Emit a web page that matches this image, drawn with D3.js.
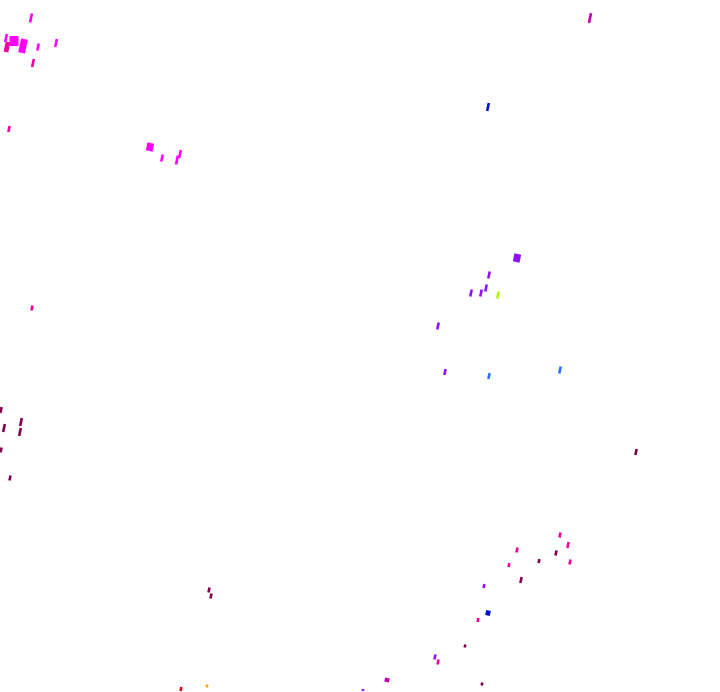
<!DOCTYPE html>
<html><head><meta charset="utf-8">
<script src="https://cdn.jsdelivr.net/npm/d3@7"></script>
<style>html,body{margin:0;padding:0;background:#fff;}svg{display:block;}</style>
</head><body>
<script>
// Data
const xs = [31,6,7,14,23,38,56,33,9,150,162,177,180,32,590,488,517,489,471,481,486,498,438,445,489,560,1,4,21,20,1,10,636,560,568,517,556,509,539,570,521,484,488,478,465,435,438,387,363,181,207,482,209,211];
const ys = [18,38,47,41,46,47,43,63,129,147,158,160,154,308,18,107,258,275,293,293,288,295,326,372,376,370,410,428,422,432,450,478,452,535,545,550,553,565,561,562,580,586,613,620,646,657,662,680,690,689,686,684,590,596];
const groups = ["m","m","p","m","m","m","m","p","p","m","m","m","m","p","v","b","u","u","u","u","u","l","u","u","c","c","r","r","r","r","r","r","r","p","p","p","r","p","r","p","r","u","b","p","r","u","p","v","u","d","o","r","r","r"];
const weights = [1,1,2,4,3,1,1,1,1,3,1,1,1,1,1,1,3,1,1,1,1,1,1,1,1,1,1,1,1,1,1,1,1,1,1,1,1,1,1,1,1,1,2,1,1,1,1,2,1,1,1,1,1,1];
const heights = [9,8,10,10,14,7,8,8,6,8,7,9,8,5,10,8,8,7,7,7,7,7,7,6,6,7,6,8,8,8,5,5,6,5,6,5,5,4,4,5,6,4,5,4,3,5,5,4,2,4,3,3,5,5];
const groupNames = ["m","p","v","b","u","l","c","r","d","o"];
const groupColors = ["#ff00ff","#f000a0","#c000b0","#0010d0","#9010ff","#b8f000","#2a70ff","#800050","#e00010","#ffaa00"];

const W = 720, H = 692;
const svg = d3.select("body").append("svg").attr("width", W).attr("height", H);
const x = d3.scaleLinear().domain([0, 720]).range([0, W]);
const y = d3.scaleLinear().domain([0, 692]).range([0, H]);
const color = d3.scaleOrdinal().domain(groupNames).range(groupColors);
const wScale = d3.scaleLinear().domain([1, 4]).range([2.6, 9]);

const data = xs.map((v, i) => ({x: v, y: ys[i], g: groups[i], w: weights[i], h: heights[i]}));
svg.selectAll("rect.mark").data(data).join("rect")
  .attr("class", "mark")
  .attr("x", d => x(d.x) - wScale(d.w) / 2)
  .attr("y", d => y(d.y) - d.h / 2)
  .attr("width", d => wScale(d.w))
  .attr("height", d => d.h)
  .attr("fill", d => color(d.g))
  .attr("transform", d => d.w <= 3 ? `rotate(12,${x(d.x)},${y(d.y)})` : null);
</script>
</body></html>
